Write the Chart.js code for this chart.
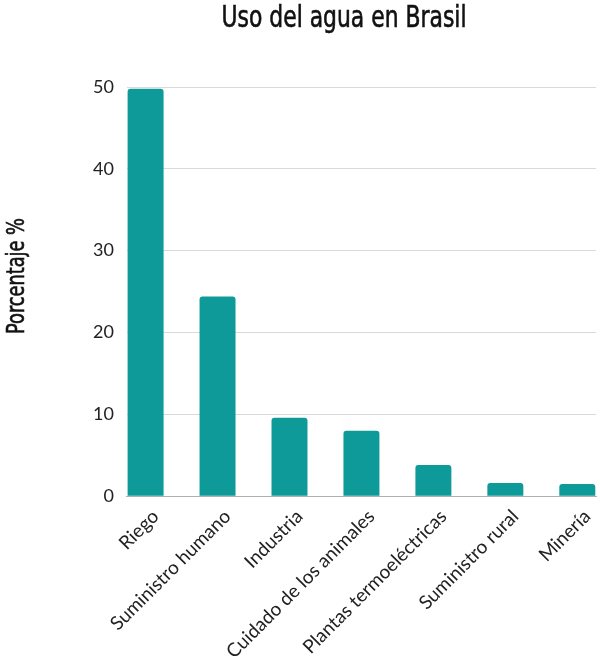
<!DOCTYPE html>
<html>
<head>
<meta charset="utf-8">
<script src="https://cdn.jsdelivr.net/npm/chart.js@4.4.0/dist/chart.umd.min.js"></script>
<style>
  html, body { margin: 0; padding: 0; background: #fff; }
  #wrap { width: 600px; height: 664px; position: relative; }
</style>
</head>
<body>
<div id="wrap"><canvas id="c"></canvas></div>
<script>
const chartTitle = "Uso del agua en Brasil";
const yAxisTitle = "Porcentaje %";
const categories = ["Riego", "Suministro humano", "Industria", "Cuidado de los animales", "Plantas termoeléctricas", "Suministro rural", "Minería"];
const values = [49.8, 24.4, 9.6, 8.0, 3.8, 1.6, 1.5];
const yTicks = [0, 10, 20, 30, 40, 50];

const condensed = '"DejaVu Sans Condensed", "Liberation Sans Narrow", sans-serif';

function drawCondensed(ctx, text, size, targetWidth) {
  ctx.font = size + 'px ' + condensed;
  const w = ctx.measureText(text).width;
  ctx.save();
  ctx.scale(targetWidth / w, 1);
  ctx.fillText(text, 0, 0);
  ctx.strokeStyle = ctx.fillStyle;
  ctx.lineWidth = 0.6;
  ctx.strokeText(text, 0, 0);
  ctx.restore();
}

const titlePlugin = {
  id: 'customTitles',
  afterDraw(chart) {
    const ctx = chart.ctx;
    ctx.save();
    ctx.fillStyle = '#111';
    ctx.textAlign = 'center';
    ctx.textBaseline = 'alphabetic';
    ctx.save();
    ctx.translate(344, 27);
    drawCondensed(ctx, chartTitle, 30, 245);
    ctx.restore();
    ctx.save();
    ctx.translate(24, 276);
    ctx.rotate(-Math.PI / 2);
    drawCondensed(ctx, yAxisTitle, 25, 116);
    ctx.restore();
    ctx.restore();
  }
};

new Chart(document.getElementById('c'), {
  type: 'bar',
  data: {
    datasets: [{
      data: values.map((v, i) => ({ x: i, y: v })),
      backgroundColor: '#0e9a98',
      borderRadius: { topLeft: 3, topRight: 3 },
      borderSkipped: 'bottom',
      categoryPercentage: 1,
      barPercentage: 0.5
    }]
  },
  options: {
    responsive: true,
    maintainAspectRatio: false,
    animation: false,
    layout: { padding: { top: 87, right: 4, left: 80, bottom: 0 } },
    plugins: { legend: { display: false }, tooltip: { enabled: false } },
    scales: {
      x: {
        type: 'linear',
        offset: false,
        bounds: 'data',
        min: -0.26,
        max: categories.length - 1 + 0.26,
        afterBuildTicks: (s) => { s.ticks = categories.map((c, i) => ({ value: i })); },
        grid: { display: false, offset: false },
        border: { display: true, color: '#b0b0b0', width: 1 },
        ticks: {
          autoSkip: false,
          maxRotation: 45,
          minRotation: 45,
          labelOffset: 10,
          padding: 1,
          color: '#222',
          font: { family: 'Lato', size: 19 },
          callback: (v) => categories[v]
        }
      },
      y: {
        min: 0,
        max: 50,
        afterBuildTicks: (s) => { s.ticks = yTicks.map(v => ({ value: v })); },
        grid: { color: '#d9d9d9', drawTicks: false },
        border: { display: false },
        ticks: {
          padding: 13,
          color: '#222',
          font: { family: 'Lato', size: 18 }
        }
      }
    }
  },
  plugins: [titlePlugin]
});
</script>
</body>
</html>
